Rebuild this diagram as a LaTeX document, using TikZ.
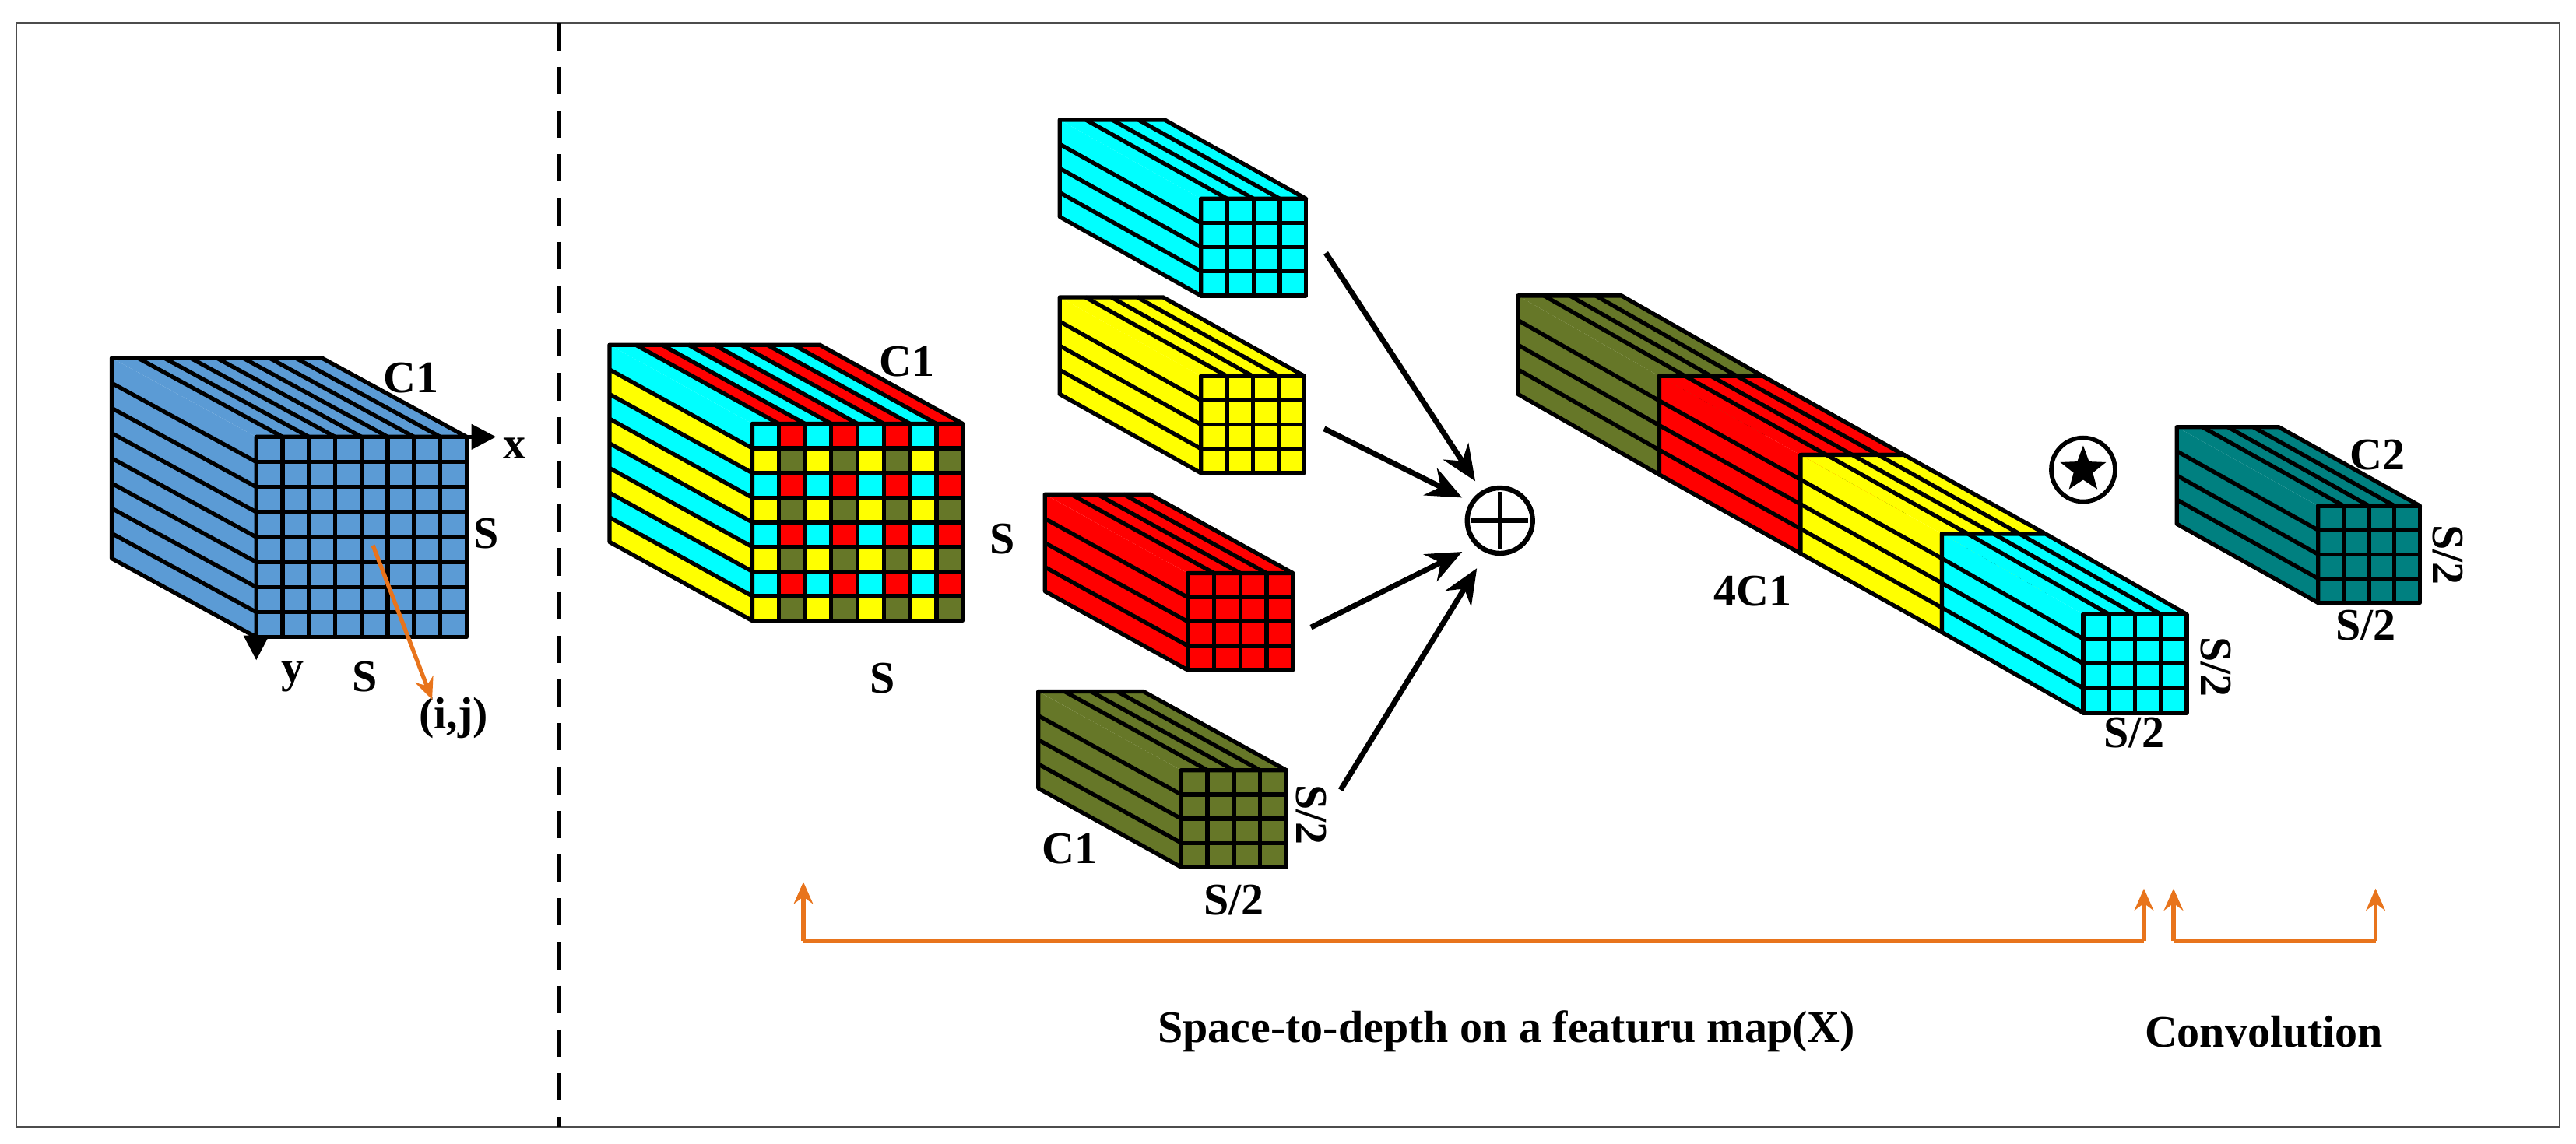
\documentclass[tikz,border=0pt]{standalone}
\usepackage{fontspec}
\setmainfont{Liberation Serif}
\usetikzlibrary{shapes.geometric,arrows.meta}
\definecolor{cblue}{HTML}{5B9BD5}
\definecolor{colive}{HTML}{667728}
\definecolor{cteal}{HTML}{008080}
\definecolor{corange}{HTML}{E8741C}
\definecolor{ccyan}{HTML}{00FFFF}
\definecolor{cyel}{HTML}{FFFF00}
\definecolor{cred}{HTML}{FF0000}
\tikzset{
  edge/.style={line width=1.5pt,line join=round},
  lbl/.style={font=\fontsize{16.5}{18}\selectfont\bfseries,inner sep=1pt},
  blk/.style={-{Stealth[length=13pt,width=11pt]},line width=2pt},
  org/.style={-{Stealth[length=8pt,width=7pt]},line width=1.5pt,draw=corange},
}
% fx fy w h dx dy n color
\newcommand\cub[8]{%
  \fill[#8] (#1,#2) -- ({#1-#5},{#2-#6}) -- ({#1-#5},{#2-#6+#4}) -- (#1,{#2+#4}) -- cycle;
  \fill[#8] (#1,#2) -- ({#1-#5},{#2-#6}) -- ({#1-#5+#3},{#2-#6}) -- ({#1+#3},#2) -- cycle;
  \fill[#8] (#1,#2) rectangle ({#1+#3},{#2+#4});
  \cubedges{#1}{#2}{#3}{#4}{#5}{#6}{#7}}
\newcommand\cubedges[7]{%
  \foreach \k in {1,...,\numexpr#7-1\relax}{
    \draw[edge] ({#1-#5},{#2-#6+\k*#4/#7}) -- (#1,{#2+\k*#4/#7});
    \draw[edge] ({#1-#5+\k*#3/#7},{#2-#6}) -- ({#1+\k*#3/#7},#2);
    \draw[edge] (#1,{#2+\k*#4/#7}) -- ({#1+#3},{#2+\k*#4/#7});
    \draw[edge] ({#1+\k*#3/#7},#2) -- ({#1+\k*#3/#7},{#2+#4});
  }
  \draw[edge] (#1,{#2+#4}) -- ({#1-#5},{#2-#6+#4}) -- ({#1-#5},{#2-#6}) -- ({#1-#5+#3},{#2-#6}) -- ({#1+#3},#2) -- (#1,#2) -- cycle;
  \draw[edge] (#1,#2) rectangle ({#1+#3},{#2+#4});}
\begin{document}
\begin{tikzpicture}[x=0.0211cm,y=-0.0211cm]
\useasboundingbox (0,0) rectangle (1568,696.1);
\draw[line width=0.6pt,black!70] (10,14) rectangle (1558,686);
\draw[line width=1.6pt,dash pattern=on 10pt off 6pt] (340,14) coordinate (dtop) -- (340,686) coordinate (dbot);
% blue cube
\cub{156}{266}{128}{122}{88}{48}{8}{cblue}
\coordinate (xs) at (284,266); \coordinate (xe) at (302,266);
\draw[-{Triangle[length=9pt,width=9pt]},line width=1.5pt] (xs) -- (xe);
\coordinate (ys) at (156,388); \coordinate (ye) at (156,402);
\draw[-{Triangle[length=9pt,width=9pt]},line width=1.5pt] (ys) -- (ye);
\node[lbl] (c1a) at (250,230) {C1};
\node[lbl] (xl) at (313,273) {x};
\node[lbl] (yl) at (178,412) {y};
\node[lbl] (sa1) at (296,325) {S};
\node[lbl] (sa2) at (222,412) {S};
\node[lbl] (ij) at (276,437) {(i,j)};
\coordinate (ijs) at (227,332); \coordinate (ije) at (263,426);
\draw[org] (ijs) -- (ije);
% checkered cube
\begin{scope}
\def\fx{458}\def\fy{258}\def\w{128}\def\h{120}\def\dx{87}\def\dy{48}
\foreach \k in {0,...,7}{
  \ifodd\k \def\sc{cyel}\def\tc{cred}\else\def\sc{ccyan}\def\tc{ccyan}\fi
  \fill[\sc] ({\fx-\dx},{\fy-\dy+\k*\h/8}) -- (\fx,{\fy+\k*\h/8}) -- (\fx,{\fy+(\k+1)*\h/8}) -- ({\fx-\dx},{\fy-\dy+(\k+1)*\h/8}) -- cycle;
  \fill[\tc] ({\fx-\dx+\k*\w/8},{\fy-\dy}) -- ({\fx+\k*\w/8},\fy) -- ({\fx+(\k+1)*\w/8},\fy) -- ({\fx-\dx+(\k+1)*\w/8},{\fy-\dy}) -- cycle;
  \foreach \j in {0,...,7}{
    \pgfmathtruncatemacro\rr{mod(\k,2)}\pgfmathtruncatemacro\cc{mod(\j,2)}
    \ifnum\rr=0 \ifnum\cc=0 \def\fc{ccyan}\else\def\fc{cred}\fi
    \else \ifnum\cc=0 \def\fc{cyel}\else\def\fc{colive}\fi\fi
    \fill[\fc] ({\fx+\j*\w/8},{\fy+\k*\h/8}) rectangle ({\fx+(\j+1)*\w/8},{\fy+(\k+1)*\h/8});
  }
}
\cubedges{\fx}{\fy}{\w}{\h}{\dx}{\dy}{8}
\end{scope}
\node[lbl] (c1b) at (552,220) {C1};
\node[lbl] (sb1) at (610,328) {S};
\node[lbl] (sb2) at (537,413) {S};
% four small cuboids
\cub{731}{121}{64}{59}{86}{48}{4}{ccyan}
\cub{731}{229}{63}{59}{86}{48}{4}{cyel}
\cub{723}{349}{64}{59}{87}{48}{4}{cred}
\cub{719}{469}{64}{59}{87}{48}{4}{colive}
\node[lbl] (c1c) at (651,517) {C1};
\node[lbl,rotate=-90] (sc1) at (798,496) {S/2};
\node[lbl] (sc2) at (751,548) {S/2};
% plus
\node[circle,draw,line width=1.8pt,inner sep=0pt,minimum size=0.84cm] (plus) at (913,317) {};
\draw[line width=1.8pt] ([xshift=4*0.0211cm]plus.west) -- ([xshift=-4*0.0211cm]plus.east);
\draw[line width=1.8pt] ([yshift=-4*0.0211cm]plus.north) -- ([yshift=4*0.0211cm]plus.south);
\coordinate (a1) at (807,154); \coordinate (a2) at (806,261);
\coordinate (a3) at (798,382); \coordinate (a4) at (816,481);
\coordinate (p1) at (898,293); \coordinate (p2) at (890,303);
\coordinate (p3) at (890,336); \coordinate (p4) at (899,346);
\draw[blk] (a1) -- (p1);
\draw[blk] (a2) -- (p2);
\draw[blk] (a3) -- (p3);
\draw[blk] (a4) -- (p4);
% long stack
\cub{1010}{229}{63}{60}{86}{49}{4}{colive}
\cub{1096}{277}{63}{60}{86}{48}{4}{cred}
\cub{1182}{325}{63}{60}{86}{48}{4}{cyel}
\cub{1268}{374}{63}{60}{86}{49}{4}{ccyan}
\node[lbl] (c4) at (1067,360) {4C1};
\node[lbl,rotate=-90] (sd1) at (1349,406) {S/2};
\node[lbl] (sd2) at (1299,446) {S/2};
% star
\node[circle,draw,line width=1.6pt,minimum size=0.82cm,inner sep=0pt] (conv) at (1268,286) {};
\node[star,star points=5,star point ratio=2.4,fill=black,minimum size=0.62cm,inner sep=0pt] (st) at (conv) {};
% teal
\cub{1411}{308}{62}{59}{86}{48}{4}{cteal}
\node[lbl] (c2) at (1447,277) {C2};
\node[lbl,rotate=-90] (se1) at (1490,338) {S/2};
\node[lbl] (se2) at (1440,381) {S/2};
% orange brackets
\coordinate (o1) at (489,573); \coordinate (o1t) at (489,537);
\coordinate (o2) at (1305,573); \coordinate (o2t) at (1305,541);
\coordinate (o3) at (1323,573); \coordinate (o3t) at (1323,541);
\coordinate (o4) at (1446,573); \coordinate (o4t) at (1446,541);
\draw[org] (o1) -- (o1t);
\draw[org] (o2) -- (o2t);
\draw[line width=1.5pt,draw=corange] (o1) -- (o2);
\draw[org] (o3) -- (o3t);
\draw[org] (o4) -- (o4t);
\draw[line width=1.5pt,draw=corange] (o3) -- (o4);
\node[lbl] (t1) at (917,628) {Space-to-depth on a featuru map(X)};
\node[lbl] (t2) at (1378,628) {Convolution};
\end{tikzpicture}
\end{document}
